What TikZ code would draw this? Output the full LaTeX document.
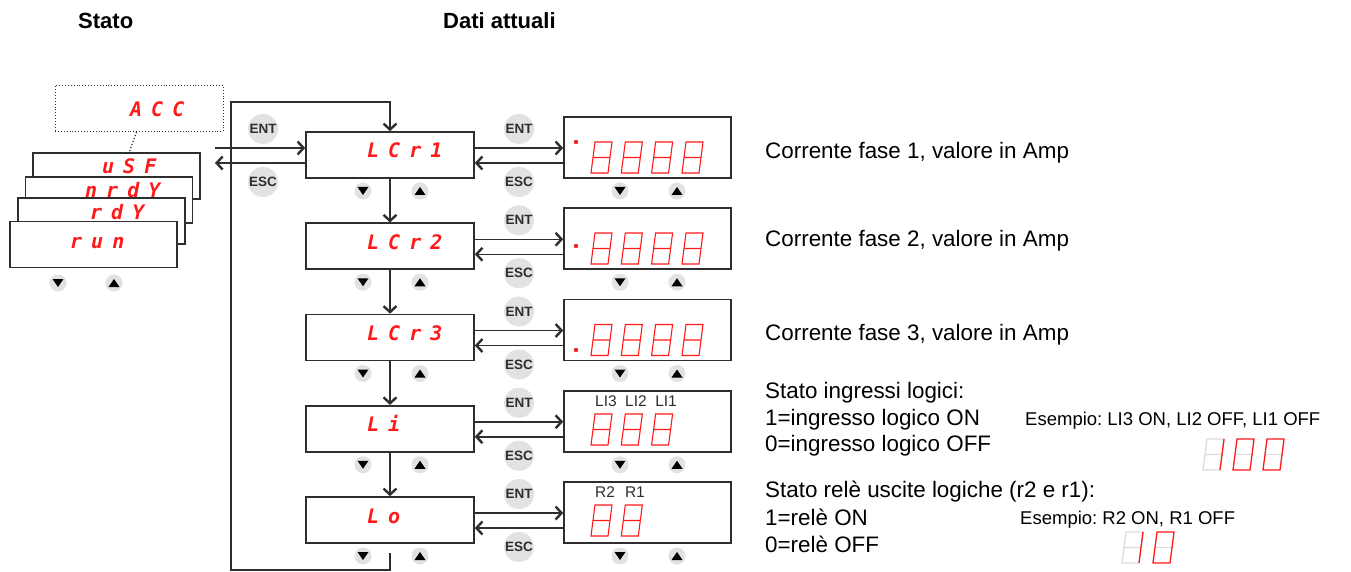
\documentclass[tikz,border=0pt]{standalone}
\usepackage{fontspec}
\setmainfont{Liberation Sans}
\newfontfamily\segfont{DejaVu Sans Mono}
\usetikzlibrary{arrows.meta,calc}
\definecolor{segred}{HTML}{FF1A1A}
\definecolor{linegray}{HTML}{2E2E2E}
\definecolor{btngray}{HTML}{E2E2E4}
\definecolor{offgray}{HTML}{DCDCDC}
\newcommand\sgap{\hspace{9pt}}
\frenchspacing
\tikzset{
  mainbox/.style={draw=linegray, line width=1.6pt, fill=white, minimum width=168pt, minimum height=46pt, inner sep=0pt},
  dispbox/.style={draw=linegray, line width=1.6pt, fill=white, minimum width=167pt, minimum height=61pt, inner sep=0pt},
  stackbox/.style={draw=linegray, line width=1.6pt, fill=white, minimum width=167pt, minimum height=46pt, inner sep=0pt},
  dotbox/.style={draw=linegray, dotted, line width=0.9pt, fill=white, minimum width=168pt, minimum height=46pt, inner sep=0pt},
  segtext/.style={text=segred, font=\segfont\bfseries\itshape\fontsize{20}{20}\selectfont, inner sep=0pt, anchor=base west},
  conn/.style={draw=linegray, line width=1.5pt},
  arr/.style={conn, -{Straight Barb[length=6pt,width=13pt,line width=2.4pt]}},
  keybtn/.style={circle, fill=btngray, minimum size=30pt, inner sep=0pt, text=linegray, font=\bfseries\fontsize{13.5}{14}\selectfont},
  lbl/.style={font=\frenchspacing\fontsize{22.4}{26}\selectfont, anchor=base west, inner sep=0pt},
  smalllbl/.style={font=\frenchspacing\fontsize{18.5}{22}\selectfont, anchor=base west, inner sep=0pt},
  disptag/.style={font=\fontsize{15.5}{18}\selectfont, anchor=base west, inner sep=0pt, text=linegray},
  hdr/.style={font=\bfseries\fontsize{22}{26}\selectfont, anchor=base west, inner sep=0pt},
  downbtn/.pic={\fill[btngray] (0,0) circle (8.5); \fill[black] (-5.5,-4) -- (5.5,-4) -- (0,4) -- cycle;},
  upbtn/.pic={\fill[btngray] (0,0) circle (8.5); \fill[black] (-5.5,4) -- (5.5,4) -- (0,-4) -- cycle;},
  eightdig/.pic={\draw[segred, line width=1.1pt] (0,0) -- (17,0) -- (21,-31) -- (4,-31) -- cycle (2,-15.5) -- (19,-15.5);},
  onedig/.pic={\draw[offgray, line width=1.3pt] (0,0) -- (17,0) -- (21,-31) -- (4,-31) -- cycle (2,-15.5) -- (19,-15.5); \draw[segred, line width=1.3pt] (17,0) -- (21,-31);},
  zerodig/.pic={\draw[offgray, line width=1.3pt] (2,-15.5) -- (19,-15.5); \draw[segred, line width=1.3pt] (0,0) -- (17,0) -- (21,-31) -- (4,-31) -- cycle;},
}
\begin{document}
\begin{tikzpicture}[x=1pt,y=-1pt]
\fill[white] (0,0) rectangle (1351,572);
\useasboundingbox (0,0) rectangle (1351,572);

% headers
\node[hdr] (hstato) at (78,29) {Stato};
\node[hdr] (hdati) at (443,29) {Dati attuali};

% state stack
\node[dotbox] (acc) at (139,108.5) {};
\node[segtext] (tacc) at (130,117) {A\sgap C\sgap C};
\node[stackbox] (usf) at (116.5,176) {};
\node[segtext] (tusf) at (102,174) {u\sgap S\sgap F};
\node[stackbox] (nrdy) at (109,200) {};
\node[segtext] (tnrdy) at (85,197) {n\sgap r\sgap d\sgap Y};
\node[stackbox] (rdy) at (101.5,221) {};
\node[segtext] (trdy) at (90,219) {r\sgap d\sgap Y};
\node[stackbox] (run) at (93.5,244.5) {};
\node[segtext] (trun) at (70,248) {r\sgap u\sgap n};
\draw[linegray, dotted, line width=1.2pt] ($(acc.south west)+(82,0)$) -- ($(usf.north west)+(97,0)$);
\pic at (58,283) {downbtn};
\pic at (114,283) {upbtn};

% main column and displays
\foreach \i/\y in {1/155,2/246.25,3/337.5,4/428.75,5/520}{
  \node[mainbox] (b\i) at (390,\y) {};
  \node[dispbox] (d\i) at (647.5,\y-7.5) {};
  \pic at (363,\y+36) {downbtn};
  \pic at (420,\y+36) {upbtn};
  \pic at (620,\y+36) {downbtn};
  \pic at (677,\y+36) {upbtn};
  \node[keybtn] (ent\i) at (519,\y-26) {ENT};
  \node[keybtn] (esc\i) at (519,\y+27) {ESC};
  \coordinate (ea\i) at ($(b\i.east)+(0,-7)$);
  \coordinate (eb\i) at ($(b\i.east)+(0,8)$);
  \draw[arr] (ea\i) -- (ea\i -| d\i.west);
  \draw[arr] (eb\i -| d\i.west) -- (eb\i);
}
\node[segtext] (t1) at ($(b1.center)+(-23,3)$) {L\sgap C\sgap r\sgap 1};
\node[segtext] (t2) at ($(b2.center)+(-23,3)$) {L\sgap C\sgap r\sgap 2};
\node[segtext] (t3) at ($(b3.center)+(-23,3)$) {L\sgap C\sgap r\sgap 3};
\node[segtext] (t4) at ($(b4.center)+(-23,3)$) {L\sgap i};
\node[segtext] (t5) at ($(b5.center)+(-23,3)$) {L\sgap o};

\foreach \i/\j in {1/2,2/3,3/4,4/5}{\draw[arr] (b\i.south) -- (b\j.north);}

% left in/out
\coordinate (inL) at (215,148);
\coordinate (outL) at (215,163);
\draw[arr] (inL) -- (inL -| b1.west);
\draw[arr] (outL -| b1.west) -- (outL);
\node[keybtn] (entL) at (263,129) {ENT};
\node[keybtn] (escL) at (263,182) {ESC};

% loop
\coordinate (lpS) at ($(b5.south)+(0,9)$);
\coordinate (lpB) at (231,570);
\coordinate (lpT) at (231,102);
\draw[arr] (lpS) |- (lpB) -- (lpT) -| (b1.north);

% display contents
\fill[segred] (576,142) circle (2.2);
\fill[segred] (576,246) circle (2.2);
\fill[segred] (576,350) circle (2.2);
\foreach \x in {591,621.3,651.6,682}{
  \pic at (\x,173) {eightdig};
  \pic at (\x,264) {eightdig};
  \pic at (\x,355.5) {eightdig};
}
\foreach \x in {591,621.3,651.6}{\pic at (\x,445) {eightdig};}
\foreach \x in {591,621.3}{\pic at (\x,536) {eightdig};}
\node[disptag] (tli) at (595,406) {LI3\hspace{8.5pt}LI2\hspace{8.5pt}LI1};
\node[disptag] (tr) at (595,497) {R2\hspace{10pt}R1};

% descriptions
\node[lbl] (c1) at (765,158.5) {Corrente fase 1, valore in Amp};
\node[lbl] (c2) at (765,246.5) {Corrente fase 2, valore in Amp};
\node[lbl] (c3) at (765,340) {Corrente fase 3, valore in Amp};
\node[lbl] (li0) at (765,398) {Stato ingressi logici:};
\node[lbl] (li1) at (765,425) {1=ingresso logico ON};
\node[lbl] (li2) at (765,451) {0=ingresso logico OFF};
\node[smalllbl] (liex) at (1025,425) {Esempio: LI3 ON, LI2 OFF, LI1 OFF};
\node[lbl] (lo0) at (765,497) {Stato relè uscite logiche (r2 e r1):};
\node[lbl] (lo1) at (765,525) {1=relè ON};
\node[lbl] (lo2) at (765,552) {0=relè OFF};
\node[smalllbl] (loex) at (1020,524) {Esempio: R2 ON, R1 OFF};

% examples
\pic at (1203,470) {onedig};
\pic at (1233,470) {zerodig};
\pic at (1263,470) {zerodig};
\pic at (1122,563) {onedig};
\pic at (1153,563) {zerodig};
\end{tikzpicture}
\end{document}
